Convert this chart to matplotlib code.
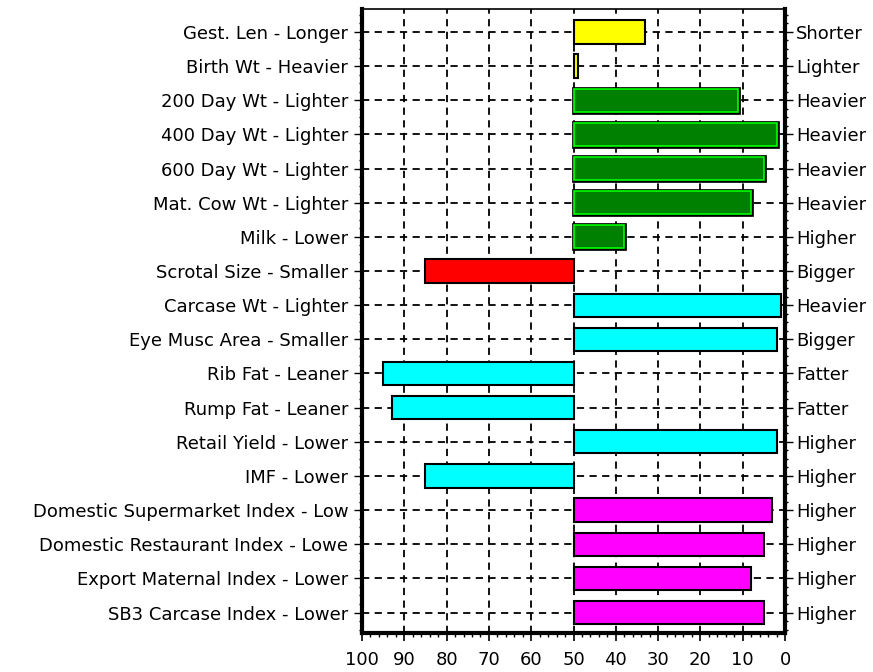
import matplotlib
matplotlib.use('Agg')
import matplotlib.pyplot as plt
import matplotlib.patheffects as pe
from matplotlib.ticker import MultipleLocator

left_labels = ["Gest. Len - Longer", "Birth Wt - Heavier", "200 Day Wt - Lighter",
               "400 Day Wt - Lighter", "600 Day Wt - Lighter", "Mat. Cow Wt - Lighter",
               "Milk - Lower", "Scrotal Size - Smaller", "Carcase Wt - Lighter",
               "Eye Musc Area - Smaller", "Rib Fat - Leaner", "Rump Fat - Leaner",
               "Retail Yield - Lower", "IMF - Lower", "Domestic Supermarket Index - Low",
               "Domestic Restaurant Index - Lowe", "Export Maternal Index - Lower",
               "SB3 Carcase Index - Lower"]
right_labels = ["Shorter", "Lighter", "Heavier", "Heavier", "Heavier", "Heavier",
                "Higher", "Bigger", "Heavier", "Bigger", "Fatter", "Fatter",
                "Higher", "Higher", "Higher", "Higher", "Higher", "Higher"]
# percentile values (bars drawn from 50)
values = [33, 49, 11, 2, 5, 8, 38, 85, 1, 2, 95, 93, 2, 85, 3, 5, 8, 5]
groups = ["yellow", "yellow", "green", "green", "green", "green", "green", "red",
          "cyan", "cyan", "cyan", "cyan", "cyan", "cyan",
          "magenta", "magenta", "magenta", "magenta"]

colours = {"yellow": "#ffff00", "green": "#008000", "red": "#ff0000",
           "cyan": "#00ffff", "magenta": "#ff00ff"}

fig = plt.figure(figsize=(8.73, 6.72), dpi=100)
ax = fig.add_axes([0.4147, 0.058, 0.4845, 0.9286])

ypos = list(range(len(values)))
for y, v, g in zip(ypos, values, groups):
    if g == "green":
        # dark green fill with a bright green inner border
        ax.barh(y, v - 50, left=50, height=0.68, color=colours[g], edgecolor="#00ff00",
                linewidth=1.2, zorder=3,
                path_effects=[pe.Stroke(linewidth=3.4, foreground="black"), pe.Normal()])
    else:
        ax.barh(y, v - 50, left=50, height=0.68, color=colours[g], edgecolor="black",
                linewidth=1.5, zorder=3)

ax.set_xlim(100, 0)
ax.set_ylim(17.6, -0.67)
ax.set_yticks(ypos)
ax.set_yticklabels(left_labels, fontsize=13)
ax.xaxis.set_major_locator(MultipleLocator(10))
ax.xaxis.set_minor_locator(MultipleLocator(2))
ax.yaxis.set_minor_locator(MultipleLocator(0.25))
ax.tick_params(axis='x', labelsize=13, length=6, width=1.2, pad=7)
ax.tick_params(axis='x', which='minor', length=3, width=1)
ax.tick_params(axis='y', length=6, width=1, pad=4)
ax.tick_params(axis='y', which='minor', length=2, width=1)

ax.grid(True, which='major', color='black', linestyle=(0, (4, 3)), linewidth=1.3, zorder=1)
ax.set_axisbelow(True)

for side in ['left', 'right', 'bottom']:
    ax.spines[side].set_linewidth(3)
ax.spines['top'].set_linewidth(1.2)

ax2 = ax.twinx()
ax2.set_ylim(ax.get_ylim())
ax2.set_yticks(ypos)
ax2.set_yticklabels(right_labels, fontsize=13)
ax2.yaxis.set_minor_locator(MultipleLocator(0.25))
ax2.tick_params(axis='y', length=6, width=1, pad=2)
ax2.tick_params(axis='y', which='minor', length=2, width=1)
for side in ['left', 'right', 'bottom', 'top']:
    ax2.spines[side].set_visible(False)

fig.savefig("out.png", dpi=100)
